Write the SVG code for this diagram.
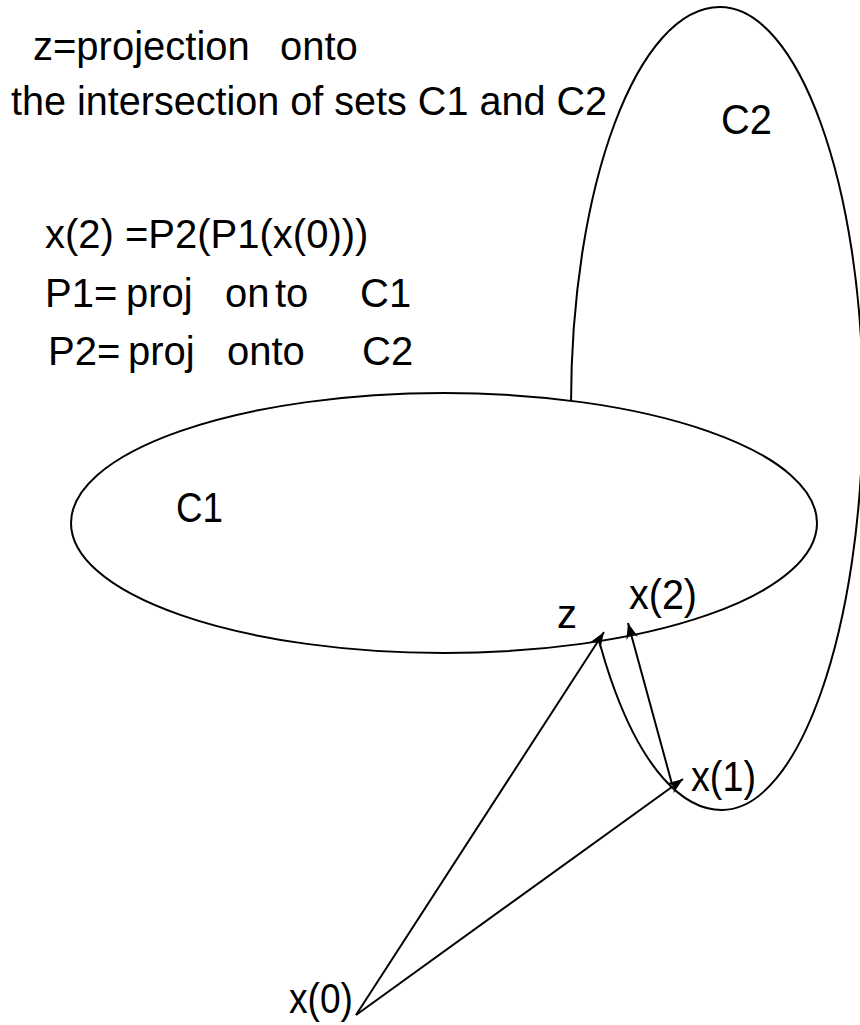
<svg xmlns="http://www.w3.org/2000/svg" width="860" height="1025" viewBox="0 0 860 1025">
<defs>
<style>
.set{fill:#fff;stroke:#000;stroke-width:2}
.t{font-family:"Liberation Sans",Arial,sans-serif;font-size:40px;fill:#000}
.lbl{font-family:"Liberation Sans",Arial,sans-serif;font-size:42px;fill:#000}
.con{fill:none;stroke:#000;stroke-width:2;marker-end:url(#ah)}
</style>
<marker id="ah" markerUnits="userSpaceOnUse" markerWidth="20" markerHeight="14" viewBox="-16 -7 17 14" refX="0" refY="0" orient="auto">
<path d="M0,0 L-16,-6 L-11,0 L-16,6 Z" fill="#000"/>
</marker>
</defs>
<rect width="860" height="1025" fill="#fff"/>
<g id="C2">
<path class="set" d="M720,7 C798.4,7 863,185 863,405 C863,629 799,810 722,810 C638.6,810 571,629 571,405 C571,185 637.7,7 720,7 Z"/>
<text class="lbl" x="721" y="134" textLength="51" lengthAdjust="spacingAndGlyphs">C2</text>
</g>
<g id="C1">
<ellipse class="set" cx="444" cy="523" rx="373" ry="130"/>
<text class="lbl" x="176" y="522" textLength="47" lengthAdjust="spacingAndGlyphs">C1</text>
</g>
<g id="connectors">
<line class="con" x1="356" y1="1015" x2="604" y2="632"/>
<line class="con" x1="356" y1="1015" x2="683" y2="779"/>
<line class="con" x1="672" y1="784" x2="628" y2="623"/>
</g>
<g id="note-z">
<text class="t" y="60"><tspan x="33">z=projection</tspan> <tspan x="280">onto</tspan></text>
<text class="t" x="11" y="115" textLength="596" lengthAdjust="spacingAndGlyphs">the intersection of sets C1 and C2</text>
</g>
<g id="note-x2">
<text class="t" x="45" y="248">x(2) =P2(P1(x(0)))</text>
<text class="t" y="307"><tspan x="45">P1=</tspan> <tspan x="126">proj</tspan> <tspan x="225">on</tspan> <tspan x="275">to</tspan> <tspan x="360">C1</tspan></text>
<text class="t" y="365"><tspan x="48">P2=</tspan> <tspan x="128">proj</tspan> <tspan x="227">onto</tspan> <tspan x="362">C2</tspan></text>
</g>
<g id="z"><text class="t" x="557" y="628">z</text></g>
<g id="x2"><text class="lbl" x="629" y="609" textLength="68" lengthAdjust="spacingAndGlyphs">x(2)</text></g>
<g id="x1"><text class="lbl" x="691" y="791" textLength="65" lengthAdjust="spacingAndGlyphs">x(1)</text></g>
<g id="x0"><text class="lbl" x="289" y="1013" textLength="64" lengthAdjust="spacingAndGlyphs">x(0)</text></g>
</svg>
